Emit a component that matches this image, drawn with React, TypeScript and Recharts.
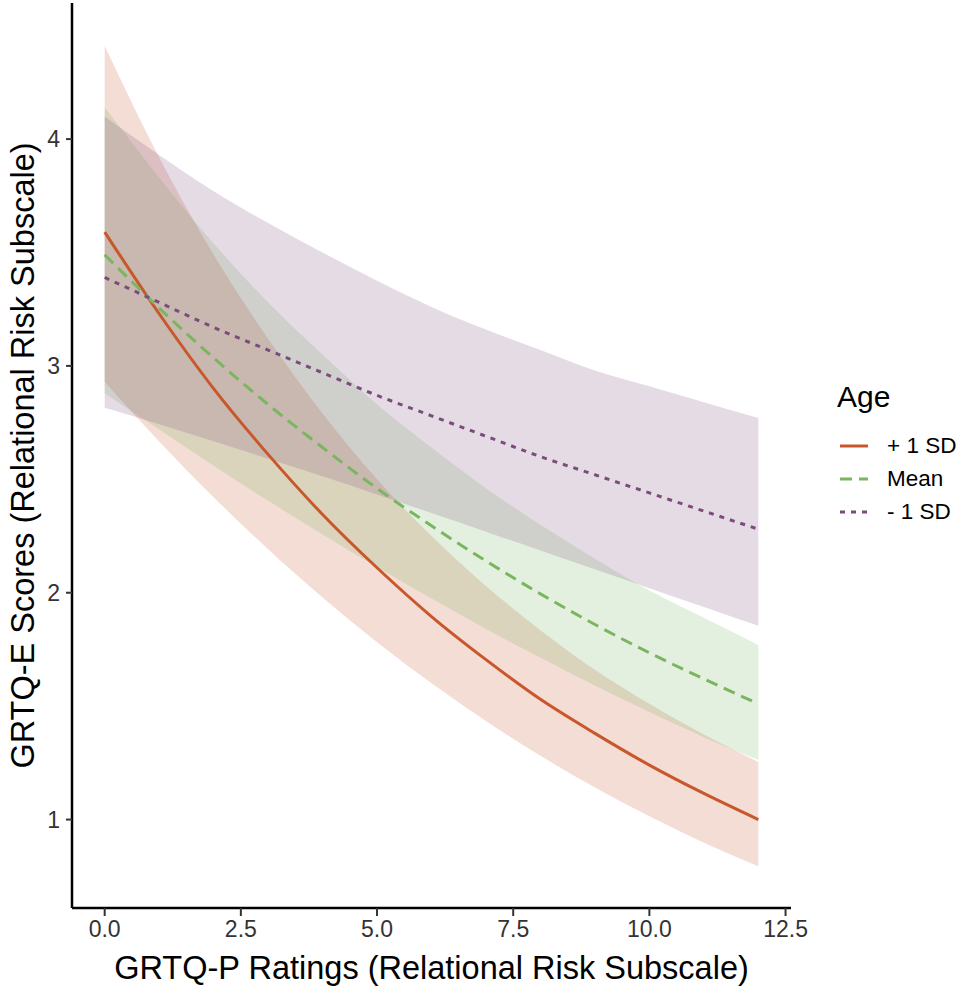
import React from 'react';
import { ComposedChart, Area, Line, XAxis, YAxis, Legend } from 'recharts';

// GRTQ-P rating (x) at which the fitted curves were read
const ratings = [0, 1, 2, 3, 4, 5, 6, 7, 8, 9, 10, 11, 12];

// Age + 1 SD
const plusSdFit = [3.59, 3.23, 2.9, 2.61, 2.345, 2.11, 1.895, 1.705, 1.53, 1.38, 1.24, 1.115, 1.0];
const plusSdLow = [2.93, 2.667, 2.421, 2.192, 1.979, 1.782, 1.601, 1.434, 1.281, 1.141, 1.014, 0.898, 0.794];
const plusSdHigh = [4.41, 3.92, 3.49, 3.12, 2.79, 2.5, 2.25, 2.03, 1.835, 1.66, 1.51, 1.375, 1.254];

// Age at mean
const meanFit = [3.49, 3.255, 3.035, 2.83, 2.64, 2.46, 2.295, 2.14, 1.995, 1.86, 1.735, 1.62, 1.51];
const meanLow = [2.88, 2.72, 2.56, 2.405, 2.257, 2.113, 1.974, 1.84, 1.713, 1.59, 1.474, 1.363, 1.262];
const meanHigh = [4.14, 3.83, 3.54, 3.28, 3.05, 2.83, 2.64, 2.46, 2.3, 2.15, 2.01, 1.89, 1.77];

// Age - 1 SD
const minusSdFit = [3.39, 3.28, 3.17, 3.07, 2.97, 2.87, 2.78, 2.69, 2.6, 2.52, 2.44, 2.36, 2.28];
const minusSdLow = [2.815, 2.743, 2.668, 2.591, 2.513, 2.433, 2.351, 2.269, 2.186, 2.103, 2.02, 1.937, 1.854];
const minusSdHigh = [4.1, 3.93, 3.77, 3.63, 3.5, 3.375, 3.26, 3.16, 3.07, 2.98, 2.91, 2.84, 2.77];

const xTicks = [0, 2.5, 5, 7.5, 10, 12.5];
const yTicks = [1, 2, 3, 4];

const FONT = '"Liberation Sans", Arial, Helvetica, sans-serif';

const groups = [
  { key: 'plus', name: '+ 1 SD', color: '#C9572C', dash: undefined as string | undefined },
  { key: 'mean', name: 'Mean', color: '#7AB55F', dash: '12 7' },
  { key: 'minus', name: '- 1 SD', color: '#7B4B7C', dash: '5 6' },
];

const data = ratings.map((x, i) => ({
  x,
  plus: plusSdFit[i],
  plusBand: [plusSdLow[i], plusSdHigh[i]],
  mean: meanFit[i],
  meanBand: [meanLow[i], meanHigh[i]],
  minus: minusSdFit[i],
  minusBand: [minusSdLow[i], minusSdHigh[i]],
}));

const AgeLegend = () => (
  <div style={{ fontFamily: FONT, color: '#000' }}>
    <div style={{ fontSize: 30, lineHeight: '34px', marginBottom: 15, marginLeft: 7 }}>Age</div>
    {groups.map((g) => (
      <div key={g.key} style={{ display: 'flex', alignItems: 'center', height: 33 }}>
        <svg width={49} height={20} style={{ marginLeft: 8 }}>
          <line x1={2} x2={30} y1={10} y2={10} stroke={g.color} strokeWidth={3} strokeDasharray={g.dash} />
        </svg>
        <span style={{ fontSize: 22.5 }}>{g.name}</span>
      </div>
    ))}
  </div>
);

export default function App() {
  return (
    <div style={{ width: 968, height: 988, background: '#fff' }}>
      <style>{'body{margin:0}'}</style>
      <ComposedChart width={968} height={988} data={data} margin={{ top: 3, right: 177, bottom: 0, left: 0 }}>
        <XAxis
          dataKey="x"
          type="number"
          domain={[-0.6, 12.6]}
          ticks={xTicks}
          tickFormatter={(v: number) => v.toFixed(1)}
          height={80}
          tickSize={8}
          tickMargin={5}
          axisLine={{ stroke: '#000', strokeWidth: 2.5 }}
          tickLine={{ stroke: '#333', strokeWidth: 2 }}
          tick={{ fill: '#333', fontSize: 23, fontFamily: FONT }}
          label={{
            value: 'GRTQ-P Ratings (Relational Risk Subscale)',
            position: 'insideBottom',
            offset: 9,
            style: { fill: '#000', fontSize: 32.5, fontFamily: FONT },
          }}
        />
        <YAxis
          type="number"
          domain={[0.61, 4.6]}
          ticks={yTicks}
          width={72}
          tickSize={6}
          tickMargin={6}
          axisLine={{ stroke: '#000', strokeWidth: 2.5 }}
          tickLine={{ stroke: '#333', strokeWidth: 2 }}
          tick={{ fill: '#333', fontSize: 23, fontFamily: FONT }}
          label={{
            value: 'GRTQ-E Scores (Relational Risk Subscale)',
            angle: -90,
            position: 'insideLeft',
            offset: 22,
            style: { fill: '#000', fontSize: 32.5, fontFamily: FONT, textAnchor: 'middle' },
          }}
        />
        {groups.map((g) => (
          <Area
            key={g.key + 'Band'}
            type="monotone"
            dataKey={g.key + 'Band'}
            stroke="none"
            fill={g.color}
            fillOpacity={0.2}
            legendType="none"
            isAnimationActive={false}
          />
        ))}
        {groups.map((g) => (
          <Line
            key={g.key}
            type="monotone"
            dataKey={g.key}
            name={g.name}
            stroke={g.color}
            strokeWidth={3}
            strokeDasharray={g.dash}
            dot={false}
            activeDot={false}
            isAnimationActive={false}
          />
        ))}
        <Legend
          layout="vertical"
          align="center"
          verticalAlign="middle"
          content={() => <AgeLegend />}
          wrapperStyle={{ position: 'absolute', left: 830, top: 380, width: 138 }}
        />
      </ComposedChart>
    </div>
  );
}
